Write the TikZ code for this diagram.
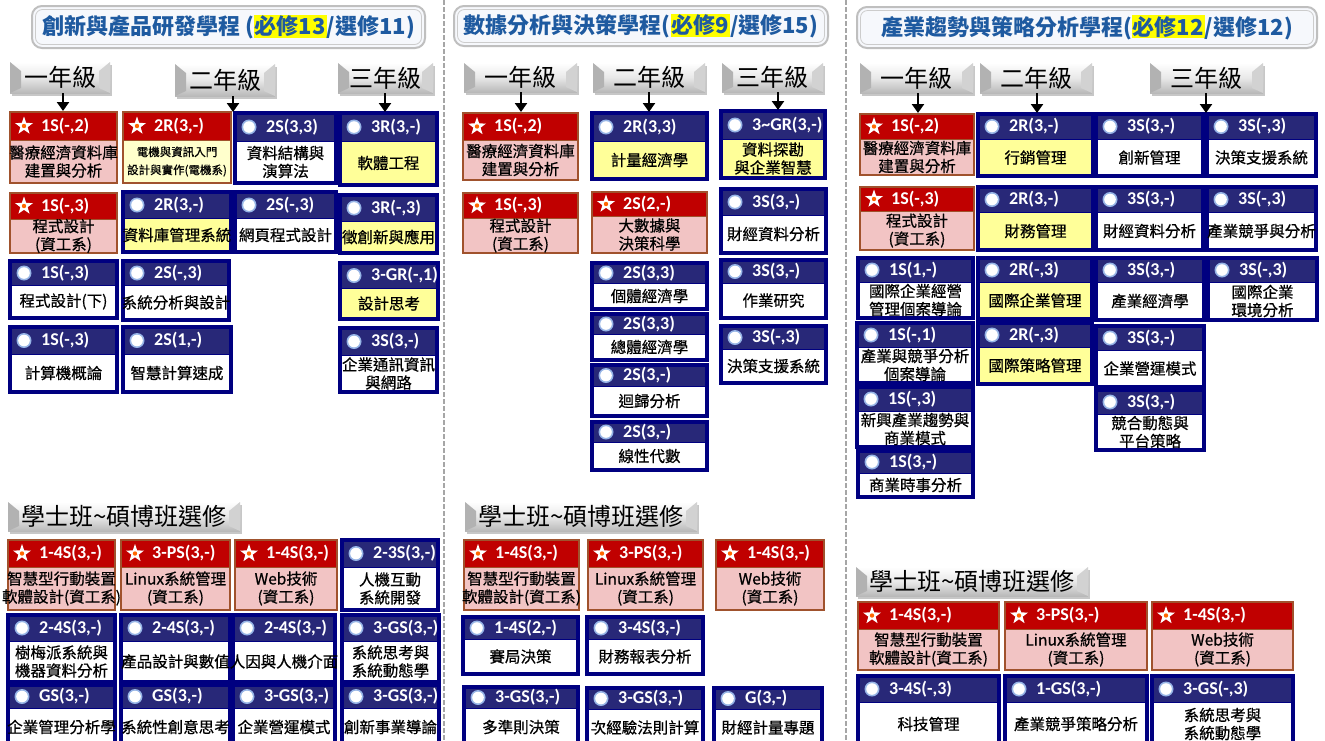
\documentclass[tikz,border=0pt]{standalone}
\usepackage{fontspec}
\setmainfont{Noto Sans CJK TC}
\newfontfamily\bodyf{Noto Sans CJK TC}[FakeBold=0.6]
\newfontfamily\codefont{Carlito}
\usetikzlibrary{arrows.meta,fit,shapes.geometric}
\definecolor{redhead}{RGB}{192,0,0}
\definecolor{pinkbody}{RGB}{242,196,196}
\definecolor{brownline}{RGB}{160,82,45}
\definecolor{navyline}{RGB}{0,0,128}
\definecolor{navyhead}{RGB}{40,40,120}
\definecolor{yelbody}{RGB}{255,255,153}
\definecolor{paleyel}{RGB}{255,255,204}
\definecolor{titleblue}{RGB}{30,90,160}
\definecolor{titlefill}{RGB}{246,248,252}
\definecolor{hl}{RGB}{255,255,0}
\definecolor{glow}{RGB}{150,180,230}
\setlength{\fboxsep}{1pt}
\newcommand\smallcjk{\fontsize{11.5}{15}\selectfont}
\tikzset{
 rpbody/.style={fill=pinkbody}, rphead/.style={fill=redhead}, rpline/.style={draw=brownline, line width=2.5pt},
 rybody/.style={fill=paleyel}, ryhead/.style={fill=redhead}, ryline/.style={draw=brownline, line width=2.5pt},
 bwbody/.style={fill=white}, bwhead/.style={fill=navyhead}, bwline/.style={draw=navyline, line width=3.2pt},
 bybody/.style={fill=yelbody}, byhead/.style={fill=navyhead}, byline/.style={draw=navyline, line width=3.2pt},
 codetext/.style={text=white, font=\codefont\bfseries\fontsize{18}{20}\selectfont, inner sep=0pt, anchor=west},
 bodytext/.style={text=black, font=\bodyf\fontsize{15.5}{18}\selectfont, align=center, inner sep=0pt},
 yeartext/.style={text=black, font=\fontsize{24}{26}\selectfont, inner sep=0pt},
 titletext/.style={text=titleblue, font=\bfseries\fontsize{22}{26}\selectfont, inner sep=0pt},
 starsym/.style={star, star points=5, star point ratio=2.5, fill=white, minimum size=19pt, inner sep=0pt},
 yarrow/.style={-{Triangle[width=12pt,length=9pt]}, line width=2.5pt, black},
 sepline/.style={draw=gray!70, line width=2pt, dash pattern=on 5pt off 2pt},
}
\newcommand\symrp[3]{\node[starsym] (#1-s) at ({#2},{#3}) {}; \fill[orange!80!red] ({#2},{#3}) circle (2.2);}
\newcommand\symry[3]{\symrp{#1}{#2}{#3}}
\newcommand\symbw[3]{\fill[glow] ({#2},{#3}) circle (7.5); \fill[white] ({#2},{#3}) circle (5.8);}
\newcommand\symby[3]{\symbw{#1}{#2}{#3}}
% style, name, x1, y1, x2, y2, header height, code, body
\newcommand\coursebox[9]{%
  \node[fit={(#3,#4) (#5,#6)}, inner sep=0pt] (#2) {};
  \fill[#1body] (#3,#4) rectangle (#5,#6);
  \fill[#1head] (#3,#4) rectangle (#5,{#4+#7});
  \draw[#1line, line width=1pt] (#3,{#4+#7}) -- (#5,{#4+#7});
  \draw[#1line] (#3,#4) rectangle (#5,#6);
  \csname sym#1\endcsname{#2}{#3+14}{#4+#7/2}
  \node[codetext] (#2-c) at ({#3+31},{#4+#7/2}) {#8};
  \node[bodytext] (#2-b) at ({(#3+#5)/2},{(#4+#7+#6)/2}) {#9};
}
\newcommand\yearbtn[6]{%
  \node[fit={(#2,#3) (#4,#5)}, inner sep=0pt] (#1) {};
  \fill[black!22] ({#2+2},{#3+3}) rectangle ({#4+2},{#5+3});
  \shade[top color=white, bottom color=gray!55, middle color=gray!18] (#2,#3) rectangle (#4,#5);
  \fill[gray!60] (#2,#3) -- ({#2+11},{#3+9}) -- ({#2+11},{#5-5}) -- (#2,#5) -- cycle;
  \fill[gray!35] (#4,#3) -- ({#4-11},{#3+9}) -- ({#4-11},{#5-5}) -- (#4,#5) -- cycle;
  \node[yeartext] (#1-t) at (#1.center) {#6};
}
\newcommand\ttlbox[6]{%
  \node[fit={(#2,#3) (#4,#5)}, inner sep=0pt] (#1) {};
  \draw[draw=gray!50, line width=2pt, fill=titlefill, rounded corners=10pt] (#2,#3) rectangle (#4,#5);
  \draw[draw=gray!40, line width=0.8pt, rounded corners=7pt] ({#2+3.5},{#3+3.5}) rectangle ({#4-3.5},{#5-3.5});
  \node[titletext] (#1-t) at (#1.center) {#6};
}
\begin{document}
\begin{tikzpicture}[x=1pt,y=-1pt]
\useasboundingbox (0,0) rectangle (1325,740);
\fill[white] (0,0) rectangle (1325,740);
\draw[sepline] (444,0) -- (444,740);
\draw[sepline] (846,0) -- (846,740);

% ===== Column 1 =====
\ttlbox{tb1}{32}{6}{425}{48}{創新與產品研發學程 (\colorbox{hl}{必修13}/選修11)}
\yearbtn{h11}{10}{62}{110}{93}{一年級}
\yearbtn{h12}{175}{64}{275}{96}{二年級}
\yearbtn{h13}{338}{63}{433}{93}{三年級}

\coursebox{rp}{a11}{10}{112}{117}{183}{28}{1S(-,2)}{醫療經濟資料庫\\建置與分析}
\coursebox{ry}{a12}{123}{112}{231}{183}{28}{2R(3,-)}{\smallcjk 電機與資訊入門\\\smallcjk 設計與實作(電機系)}
\coursebox{bw}{a13}{235}{113}{336}{183}{28}{2S(3,3)}{資料結構與\\演算法}
\coursebox{by}{a14}{340}{113}{437}{185}{28}{3R(3,-)}{軟體工程}
\coursebox{rp}{a21}{10}{193}{117}{253}{26}{1S(-,3)}{程式設計\\(資工系)}
\coursebox{by}{a22}{123}{192}{231}{252}{26}{2R(3,-)}{資料庫管理系統}
\coursebox{bw}{a23}{235}{192}{336}{252}{26}{2S(-,3)}{網頁程式設計}
\coursebox{by}{a24}{340}{195}{437}{253}{26}{3R(-,3)}{徵創新與應用}
\coursebox{bw}{a31}{10}{261}{117}{318}{24}{1S(-,3)}{程式設計(下)}
\coursebox{bw}{a32}{123}{261}{229}{320}{24}{2S(-,3)}{系統分析與設計}
\coursebox{by}{a34}{340}{263}{438}{319}{25}{3-GR(-,1)}{設計思考}
\coursebox{bw}{a41}{10}{327}{117}{392}{27}{1S(-,3)}{計算機概論}
\coursebox{bw}{a42}{123}{327}{231}{392}{27}{2S(1,-)}{智慧計算速成}
\coursebox{bw}{a44}{340}{328}{437}{392}{27}{3S(3,-)}{企業通訊資訊\\與網路}

\coordinate (ar11) at (63,111);
\coordinate (ar12) at (233,112);
\coordinate (ar13) at (385,112);
\draw[yarrow] (h11.south -| ar11) -- (ar11);
\draw[yarrow] (h12.south -| ar12) -- (ar12);
\draw[yarrow] (h13.south -| ar13) -- (ar13);

\yearbtn{s1}{8}{502}{240}{531}{學士班\textasciitilde 碩博班選修}
\coursebox{rp}{e11}{8}{540}{115}{610}{27}{1-4S(3,-)}{智慧型行動裝置\\軟體設計(資工系)}
\coursebox{rp}{e12}{121}{540}{230}{610}{27}{3-PS(3,-)}{Linux系統管理\\(資工系)}
\coursebox{rp}{e13}{235}{540}{337}{610}{27}{1-4S(3,-)}{Web技術\\(資工系)}
\coursebox{bw}{e14}{342}{540}{438}{610}{27}{2-3S(3,-)}{人機互動\\系統開發}
\coursebox{bw}{e21}{8}{615}{115}{682}{26}{2-4S(3,-)}{樹梅派系統與\\機器資料分析}
\coursebox{bw}{e22}{121}{615}{230}{682}{26}{2-4S(3,-)}{產品設計與數值}
\coursebox{bw}{e23}{233}{615}{335}{682}{26}{2-4S(3,-)}{人因與人機介面}
\coursebox{bw}{e24}{342}{615}{439}{682}{26}{3-GS(3,-)}{系統思考與\\系統動態學}
\coursebox{bw}{e31}{8}{685}{115}{746}{23}{GS(3,-)}{企業管理分析學}
\coursebox{bw}{e32}{121}{685}{230}{746}{23}{GS(3,-)}{系統性創意思考}
\coursebox{bw}{e33}{233}{685}{335}{746}{23}{3-GS(3,-)}{企業營運模式}
\coursebox{bw}{e34}{342}{685}{439}{746}{23}{3-GS(3,-)}{創新事業導論}

% ===== Column 2 =====
\ttlbox{tb2}{454}{6}{828}{46}{數據分析與決策學程(\colorbox{hl}{必修9}/選修15)}
\yearbtn{h21}{464}{63}{577}{92}{一年級}
\yearbtn{h22}{593}{63}{705}{92}{二年級}
\yearbtn{h23}{722}{63}{823}{92}{三年級}

\coursebox{rp}{b11}{463}{113}{578}{180}{27}{1S(-,2)}{醫療經濟資料庫\\建置與分析}
\coursebox{by}{b12}{592}{113}{707}{179}{28}{2R(3,3)}{計量經濟學}
\coursebox{by}{b13}{721}{111}{825}{178}{28}{3\textasciitilde GR(3,-)}{資料探勘\\與企業智慧}
\coursebox{rp}{b21}{463}{193}{578}{253}{25}{1S(-,3)}{程式設計\\(資工系)}
\coursebox{rp}{b22}{592}{192}{707}{253}{24}{2S(2,-)}{大數據與\\決策科學}
\coursebox{bw}{b23}{721}{189}{826}{253}{26}{3S(3,-)}{財經資料分析}
\coursebox{bw}{b32}{592}{263}{707}{309}{20}{2S(3,3)}{個體經濟學}
\coursebox{bw}{b42}{592}{314}{707}{360}{20}{2S(3,3)}{總體經濟學}
\coursebox{bw}{b52}{592}{365}{707}{416}{21}{2S(3,-)}{迴歸分析}
\coursebox{bw}{b62}{592}{422}{707}{470}{20}{2S(3,-)}{線性代數}
\coursebox{bw}{b33}{721}{260}{826}{318}{23}{3S(3,-)}{作業研究}
\coursebox{bw}{b43}{721}{326}{826}{383}{23}{3S(-,3)}{決策支援系統}

\coordinate (ar21) at (521,112);
\coordinate (ar22) at (649,112);
\coordinate (ar23) at (778,110);
\draw[yarrow] (h21.south -| ar21) -- (ar21);
\draw[yarrow] (h22.south -| ar22) -- (ar22);
\draw[yarrow] (h23.south -| ar23) -- (ar23);

\yearbtn{s2}{465}{502}{697}{531}{學士班\textasciitilde 碩博班選修}
\coursebox{rp}{f11}{464}{540}{579}{610}{27}{1-4S(3,-)}{智慧型行動裝置\\軟體設計(資工系)}
\coursebox{rp}{f12}{588}{540}{703}{610}{27}{3-PS(3,-)}{Linux系統管理\\(資工系)}
\coursebox{rp}{f13}{716}{540}{824}{610}{27}{1-4S(3,-)}{Web技術\\(資工系)}
\coursebox{bw}{f21}{463}{617}{578}{674}{22}{1-4S(2,-)}{賽局決策}
\coursebox{bw}{f22}{587}{617}{703}{674}{22}{3-4S(3,-)}{財務報表分析}
\coursebox{bw}{f31}{464}{687}{578}{746}{21}{3-GS(3,-)}{多準則決策}
\coursebox{bw}{f32}{587}{688}{703}{746}{21}{3-GS(3,-)}{次經驗法則計算}
\coursebox{bw}{f33}{714}{688}{822}{746}{21}{G(3,-)}{財經計量專題}

% ===== Column 3 =====
\ttlbox{tb3}{857}{7}{1317}{48}{產業趨勢與策略分析學程(\colorbox{hl}{必修12}/選修12)}
\yearbtn{h31}{860}{63}{973}{93}{一年級}
\yearbtn{h32}{980}{63}{1092}{93}{二年級}
\yearbtn{h33}{1150}{63}{1263}{93}{三年級}

\coursebox{rp}{c11}{860}{114}{974}{175}{25}{1S(-,2)}{醫療經濟資料庫\\建置與分析}
\coursebox{by}{c12}{978}{114}{1093}{176}{25}{2R(3,-)}{行銷管理}
\coursebox{bw}{c13}{1096}{114}{1203}{176}{25}{3S(3,-)}{創新管理}
\coursebox{bw}{c14}{1207}{114}{1316}{176}{25}{3S(-,3)}{決策支援系統}
\coursebox{rp}{c21}{860}{187}{974}{250}{24}{1S(-,3)}{程式設計\\(資工系)}
\coursebox{by}{c22}{978}{187}{1093}{250}{25}{2R(3,-)}{財務管理}
\coursebox{bw}{c23}{1096}{187}{1203}{250}{25}{3S(3,-)}{財經資料分析}
\coursebox{bw}{c24}{1207}{187}{1316}{250}{25}{3S(-,3)}{產業競爭與分析}
\coursebox{bw}{c31}{858}{258}{973}{318}{24}{1S(1,-)}{國際企業經營\\管理個案導論}
\coursebox{by}{c32}{978}{258}{1092}{319}{24}{2R(-,3)}{國際企業管理}
\coursebox{bw}{c33}{1096}{258}{1204}{320}{24}{3S(3,-)}{產業經濟學}
\coursebox{bw}{c34}{1208}{258}{1317}{320}{24}{3S(-,3)}{國際企業\\環境分析}
\coursebox{bw}{c41}{857}{323}{973}{383}{24}{1S(-,1)}{產業與競爭分析\\個案導論}
\coursebox{by}{c42}{978}{323}{1092}{384}{24}{2R(-,3)}{國際策略管理}
\coursebox{bw}{c43}{1096}{326}{1204}{387}{24}{3S(3,-)}{企業營運模式}
\coursebox{bw}{c51}{857}{387}{973}{447}{24}{1S(-,3)}{新興產業趨勢與\\商業模式}
\coursebox{bw}{c53}{1096}{390}{1204}{450}{24}{3S(3,-)}{競合動態與\\平台策略}
\coursebox{bw}{c61}{858}{451}{973}{497}{22}{1S(3,-)}{商業時事分析}

\coordinate (ar31) at (918,113);
\coordinate (ar32) at (1037,113);
\coordinate (ar33) at (1206,113);
\draw[yarrow] (h31.south -| ar31) -- (ar31);
\draw[yarrow] (h32.south -| ar32) -- (ar32);
\draw[yarrow] (h33.south -| ar33) -- (ar33);

\yearbtn{s3}{856}{567}{1088}{596}{學士班\textasciitilde 碩博班選修}
\coursebox{rp}{g11}{858}{602}{999}{670}{27}{1-4S(3,-)}{智慧型行動裝置\\軟體設計(資工系)}
\coursebox{rp}{g12}{1005}{602}{1147}{670}{27}{3-PS(3,-)}{Linux系統管理\\(資工系)}
\coursebox{rp}{g13}{1152}{602}{1293}{670}{27}{1-4S(3,-)}{Web技術\\(資工系)}
\coursebox{bw}{g21}{858}{676}{999}{746}{26}{3-4S(-,3)}{科技管理}
\coursebox{bw}{g22}{1005}{676}{1147}{746}{26}{1-GS(3,-)}{產業競爭策略分析}
\coursebox{bw}{g23}{1152}{676}{1293}{746}{26}{3-GS(-,3)}{系統思考與\\系統動態學}
\end{tikzpicture}
\end{document}
